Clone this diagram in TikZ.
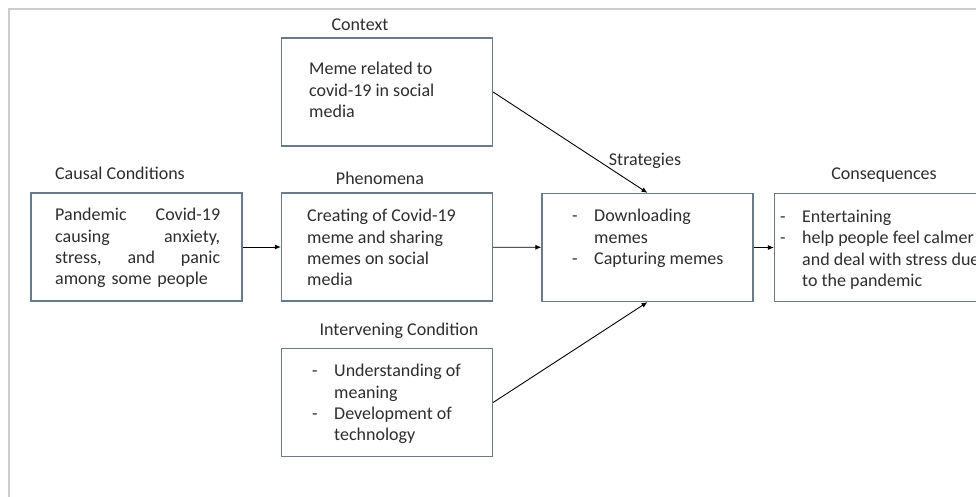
\documentclass[tikz,border=0pt]{standalone}
\usepackage{fontspec}
\setmainfont{Carlito}
\usepackage{xcolor}
\usetikzlibrary{arrows.meta}
\definecolor{boxline}{RGB}{105,122,138}
\definecolor{frameline}{RGB}{205,205,205}
\definecolor{txt}{RGB}{45,45,45}
\newcommand{\itemdash}{\makebox[22pt][l]{-}}
\newcommand{\itemgap}{\hspace*{22pt}}

\begin{document}
\begin{tikzpicture}[x=1pt,y=-1pt,
    box/.style={draw=boxline, line width=1.2pt, minimum width=211pt, minimum height=108pt, inner sep=0pt},
    head/.style={text=txt, font=\fontsize{18}{21.4}\selectfont, inner sep=0pt, anchor=base},
    body/.style={text=txt, font=\fontsize{18}{21.4}\selectfont, inner sep=0pt, anchor=north west, align=left},
    >={Latex[length=6pt,width=5pt]}]
            \useasboundingbox (0,0) rectangle (976,497);
            \clip (0,0) rectangle (976,497);
            \draw[frameline, line width=1.5pt] (9,497) -- (9,9) -- (976,9);

            \node[box] (context) at (387,92) {};
            \node[box] (causal) at (136.5,247) {};
            \node[box] (phenomena) at (387,247) {};
            \node[box] (strategies) at (647.5,247.5) {};
            \node[box] (consequences) at (880,247.5) {};
            \node[box] (intervening) at (387,402.5) {};

            \node[head] (context head) at (360,31) {Context};
            \node[head] (causal head) at (120,179) {Causal Conditions};
            \node[head] (phenomena head) at (380,184) {Phenomena};
            \node[head] (strategies head) at (645,165) {Strategies};
            \node[head] (consequences head) at (884,179) {Consequences};
            \node[head] (intervening head) at (399,335) {Intervening Condition};

            \node[body] (context text) at (309,62) {Meme related to\\covid-19 in social\\media};
            \node[body, text width=165pt] (causal text) at (55,208) {Pandemic\hfill Covid-19\\causing\hfill anxiety,\\stress,\hfill and\hfill panic\\among some people};
            \node[body] (phenomena text) at (307,209) {Creating of Covid-19\\meme and sharing\\memes on social\\media};
            \node[body] (strategies text) at (572,209) {\itemdash Downloading\\\itemgap memes\\\itemdash Capturing memes};
            \node[body] (consequences text) at (780,210) {\itemdash Entertaining\\\itemdash help people feel calmer\\\itemgap and deal with stress due\\\itemgap to the pandemic};
            \node[body] (intervening text) at (312,364) {\itemdash Understanding of\\\itemgap meaning\\\itemdash Development of\\\itemgap technology};

            \draw[->, line width=0.9pt] (causal) -- (phenomena);
            \draw[->, line width=0.9pt] (phenomena) -- (strategies);
            \draw[->, line width=0.9pt] (strategies) -- (consequences);
            \draw[->, line width=0.9pt] (context.east) -- (strategies.north);
            \draw[->, line width=0.9pt] (intervening.east) -- (strategies.south);
        \end{tikzpicture}
\end{document}
